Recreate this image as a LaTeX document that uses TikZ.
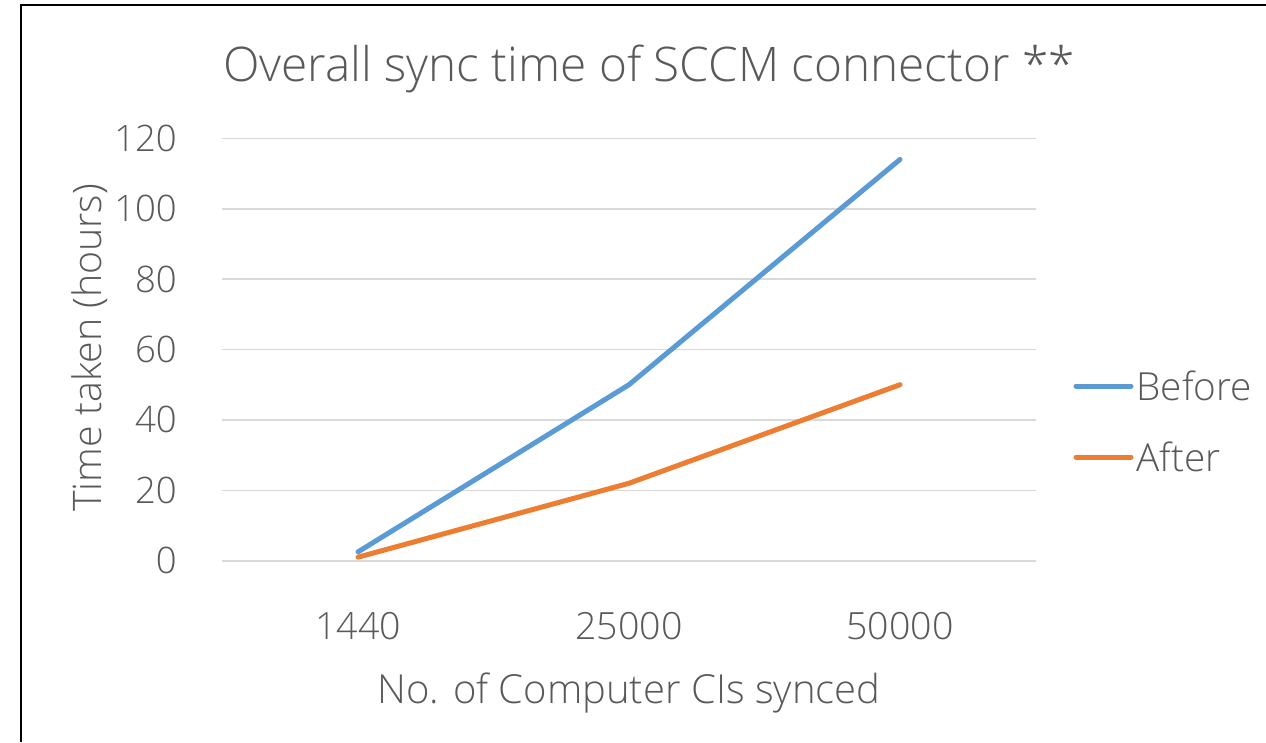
\documentclass[tikz,border=0pt]{standalone}
\usepackage{fontspec}
\setmainfont{Open Sans Light}
\definecolor{txt}{HTML}{595959}
\definecolor{gridc}{HTML}{D9D9D9}
\definecolor{sblue}{HTML}{5B9BD5}
\definecolor{sorange}{HTML}{ED7D31}
\begin{document}
\begin{tikzpicture}[x=1pt,y=-1pt,
  lbl/.style={text=txt, inner sep=0pt},
  ticky/.style={lbl, anchor=east, font=\fontsize{36.5}{40}\selectfont},
  tickx/.style={lbl, anchor=base, font=\fontsize{37.5}{40}\selectfont},
  axtitle/.style={lbl, anchor=base, font=\fontsize{40}{44}\selectfont},
  legtext/.style={lbl, anchor=base west, font=\fontsize{38.7}{42}\selectfont},
  gridline/.style={draw=gridc, line width=1.6pt},
  series/.style={line width=5pt, line cap=round, line join=round},
  frameline/.style={draw=black, line width=2pt}]
\useasboundingbox (0,0) rectangle (1266,742);
\fill[white] (0,0) rectangle (1266,742);
% outer frame
\coordinate (fbl) at (21,742);
\coordinate (ftl) at (21,4.7);
\coordinate (ftr) at (1266,4.7);
\draw[frameline] (fbl) -- (ftl) -- (ftr);
% title
\node[lbl, anchor=base, font=\fontsize{47.7}{52}\selectfont] (title) at (649,81) {Overall sync time of SCCM connector **};
% gridlines and y ticks
\foreach \v in {0,20,40,60,80,100,120} {
  \coordinate (gl\v) at (222,{560.7-\v*3.52});
  \coordinate (gr\v) at (1036,{560.7-\v*3.52});
  \draw[gridline] (gl\v) -- (gr\v);
  \node[ticky] (ty\v) at (177,{560.7-\v*3.52}) {\v};
}
% x ticks
\node[tickx] (tx1) at (358,639) {1440};
\node[tickx] (tx2) at (629,639) {25000};
\node[tickx] (tx3) at (900,639) {50000};
% axis titles
\node[axtitle] (xtitle) at (629,703) {No. of Computer CIs synced};
\node[axtitle, font=\fontsize{39.3}{44}\selectfont, rotate=90] (ytitle) at (101,348) {Time taken (hours)};
% data points
\coordinate (b1) at (358,{560.7-2.5*3.52});
\coordinate (b2) at (629,{560.7-50*3.52});
\coordinate (b3) at (900,{560.7-114*3.52});
\coordinate (a1) at (358,{560.7-1*3.52});
\coordinate (a2) at (629,{560.7-22*3.52});
\coordinate (a3) at (900,{560.7-50*3.52});
\draw[series, sblue] (b1) -- (b2) -- (b3);
\draw[series, sorange] (a1) -- (a2) -- (a3);
% legend
\coordinate (lb1) at (1076,386);
\coordinate (lb2) at (1131,386);
\coordinate (la1) at (1076,457);
\coordinate (la2) at (1131,457);
\draw[series, sblue] (lb1) -- (lb2);
\draw[series, sorange] (la1) -- (la2);
\node[legtext] (lbefore) at (1136.5,400) {Before};
\node[legtext] (lafter) at (1136.5,471.5) {After};
\end{tikzpicture}
\end{document}
